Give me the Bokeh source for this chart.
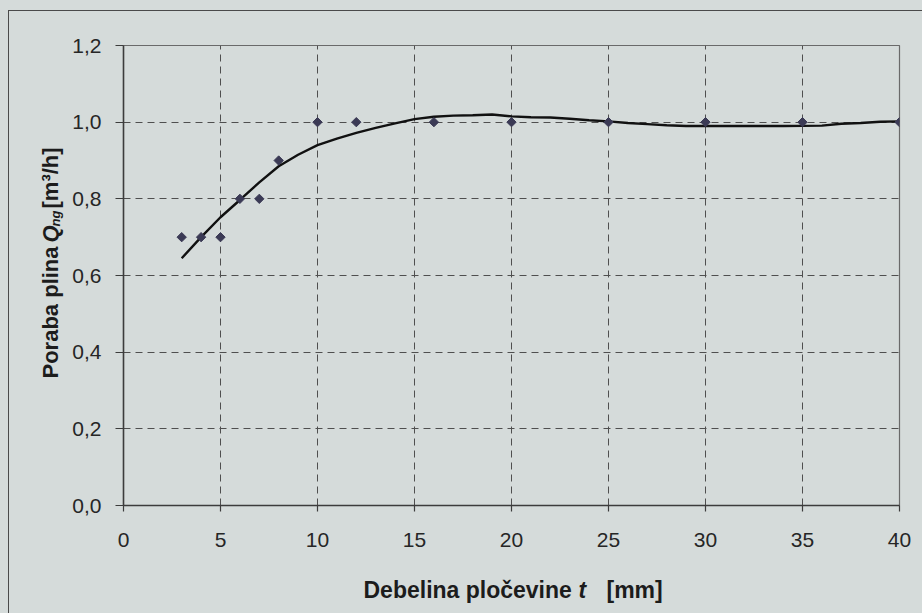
import math
from bokeh.plotting import figure
from bokeh.models import Range1d, FixedTicker, CustomJSTickFormatter, Label, GlobalInlineStyleSheet
from bokeh.embed import file_html
from bokeh.resources import INLINE

# measured data points
thickness = [3, 4, 5, 6, 7, 8, 10, 12, 16, 20, 25, 30, 35, 40]
consumption = [0.70, 0.70, 0.70, 0.80, 0.80, 0.90, 1.00, 1.00, 1.00, 1.00, 1.00, 1.00, 1.00, 1.00]

# trend curve
trend_t = [3, 4, 5, 6, 7, 8, 9, 10, 11, 12, 13, 14, 15, 16, 17, 18, 19, 20, 21, 22, 23, 24, 25,
           26, 27, 28, 29, 30, 32, 34, 36, 37, 38, 39, 40]
trend_q = [0.645, 0.700, 0.752, 0.797, 0.843, 0.885, 0.915, 0.940, 0.957, 0.972, 0.985, 0.997,
           1.008, 1.014, 1.017, 1.018, 1.020, 1.015, 1.013, 1.012, 1.009, 1.005, 1.002,
           0.998, 0.995, 0.992, 0.990, 0.990, 0.990, 0.990, 0.991, 0.996, 0.998, 1.001, 1.002]

x_ticks = [0, 5, 10, 15, 20, 25, 30, 35, 40]
y_ticks = [0.0, 0.2, 0.4, 0.6, 0.8, 1.0, 1.2]
x_grid = [5, 10, 15, 20, 25, 30, 35]
y_grid = [0.2, 0.4, 0.6, 0.8, 1.0]

BG = "#d5dbda"
FONT = "Liberation Sans"
TXT = "#1c1c1c"

p = figure(width=922, height=613, output_backend="svg", toolbar_location=None,
           x_range=Range1d(0, 40), y_range=Range1d(0, 1.2),
           min_border_left=123, min_border_right=23, min_border_top=45, min_border_bottom=108)

p.background_fill_color = BG
p.border_fill_color = BG
p.outline_line_color = "#6a6a6a"
p.outline_line_width = 1.2

css = GlobalInlineStyleSheet(css=f"""
html, body {{ background: {BG}; margin: 0; }}
body::before {{ content: ""; position: fixed; left: 8px; top: 10px; width: 3000px; height: 3000px;
  border-top: 1px solid #4a4a4a; border-left: 1px solid #4a4a4a; z-index: 1000; pointer-events: none; }}
""")
p.stylesheets = [css]

# grid
p.xgrid.ticker = FixedTicker(ticks=x_grid)
p.ygrid.ticker = FixedTicker(ticks=y_grid)
for g in (p.xgrid, p.ygrid):
    g.grid_line_color = "#4f4f4f"
    g.grid_line_width = 1
    g.grid_line_dash = "7 5"

# axes
p.xaxis.ticker = FixedTicker(ticks=x_ticks)
p.yaxis.ticker = FixedTicker(ticks=y_ticks)
p.yaxis.formatter = CustomJSTickFormatter(code="return tick.toFixed(1).replace('.', ',');")
for ax in (p.xaxis, p.yaxis):
    ax.axis_line_color = "#3c3c3c"
    ax.axis_line_width = 1.5
    ax.major_tick_line_color = "#3c3c3c"
    ax.major_tick_line_width = 1.2
    ax.major_tick_in = 0
    ax.minor_tick_line_color = None
    ax.major_label_text_font = FONT
    ax.major_label_text_font_size = "21px"
    ax.major_label_text_color = "#262626"
p.xaxis.major_tick_out = 6
p.yaxis.major_tick_out = 8
p.xaxis.major_label_standoff = 21
p.yaxis.major_label_standoff = 14

# trend line and markers
p.line(trend_t, trend_q, line_color="#111111", line_width=2.4)
p.scatter(thickness, consumption, marker="square", angle=math.pi / 4, size=6.6,
          fill_color="#3b3a55", line_color="#3b3a55")

# composed axis titles (canvas pixels; each piece sits in a side panel so it is not clipped,
# pieces are spread over the sides so the panels stay within the borders)
def add_text(side, px, py, text, size, style="bold", angle=0.0):
    p.add_layout(Label(x=px, y=py, x_units="canvas", y_units="canvas", text=text, angle=angle,
                       text_font=FONT, text_font_style=style, text_font_size=f"{size}px",
                       text_color=TXT, text_align="left", text_baseline="alphabetic"), side)

# y-axis title: Poraba plina Q_ng [m³/h]
R = math.pi / 2
add_text("left", 50, 378, "Poraba plina", 22, angle=R)
add_text("above", 50, 242, "Q", 22, style="bold italic", angle=R)
add_text("left", 54.5, 226, "ng", 13, style="bold italic", angle=R)
add_text("left", 50, 208, "[m³/h]", 22, angle=R)

# x-axis title: Debelina pločevine t [mm]
add_text("below", 363, 589, "Debelina pločevine", 23)
add_text("right", 578, 589, "t", 23, style="bold italic")
add_text("below", 606, 589, "[mm]", 23)

open("out.html", "w").write(file_html(p, INLINE))
